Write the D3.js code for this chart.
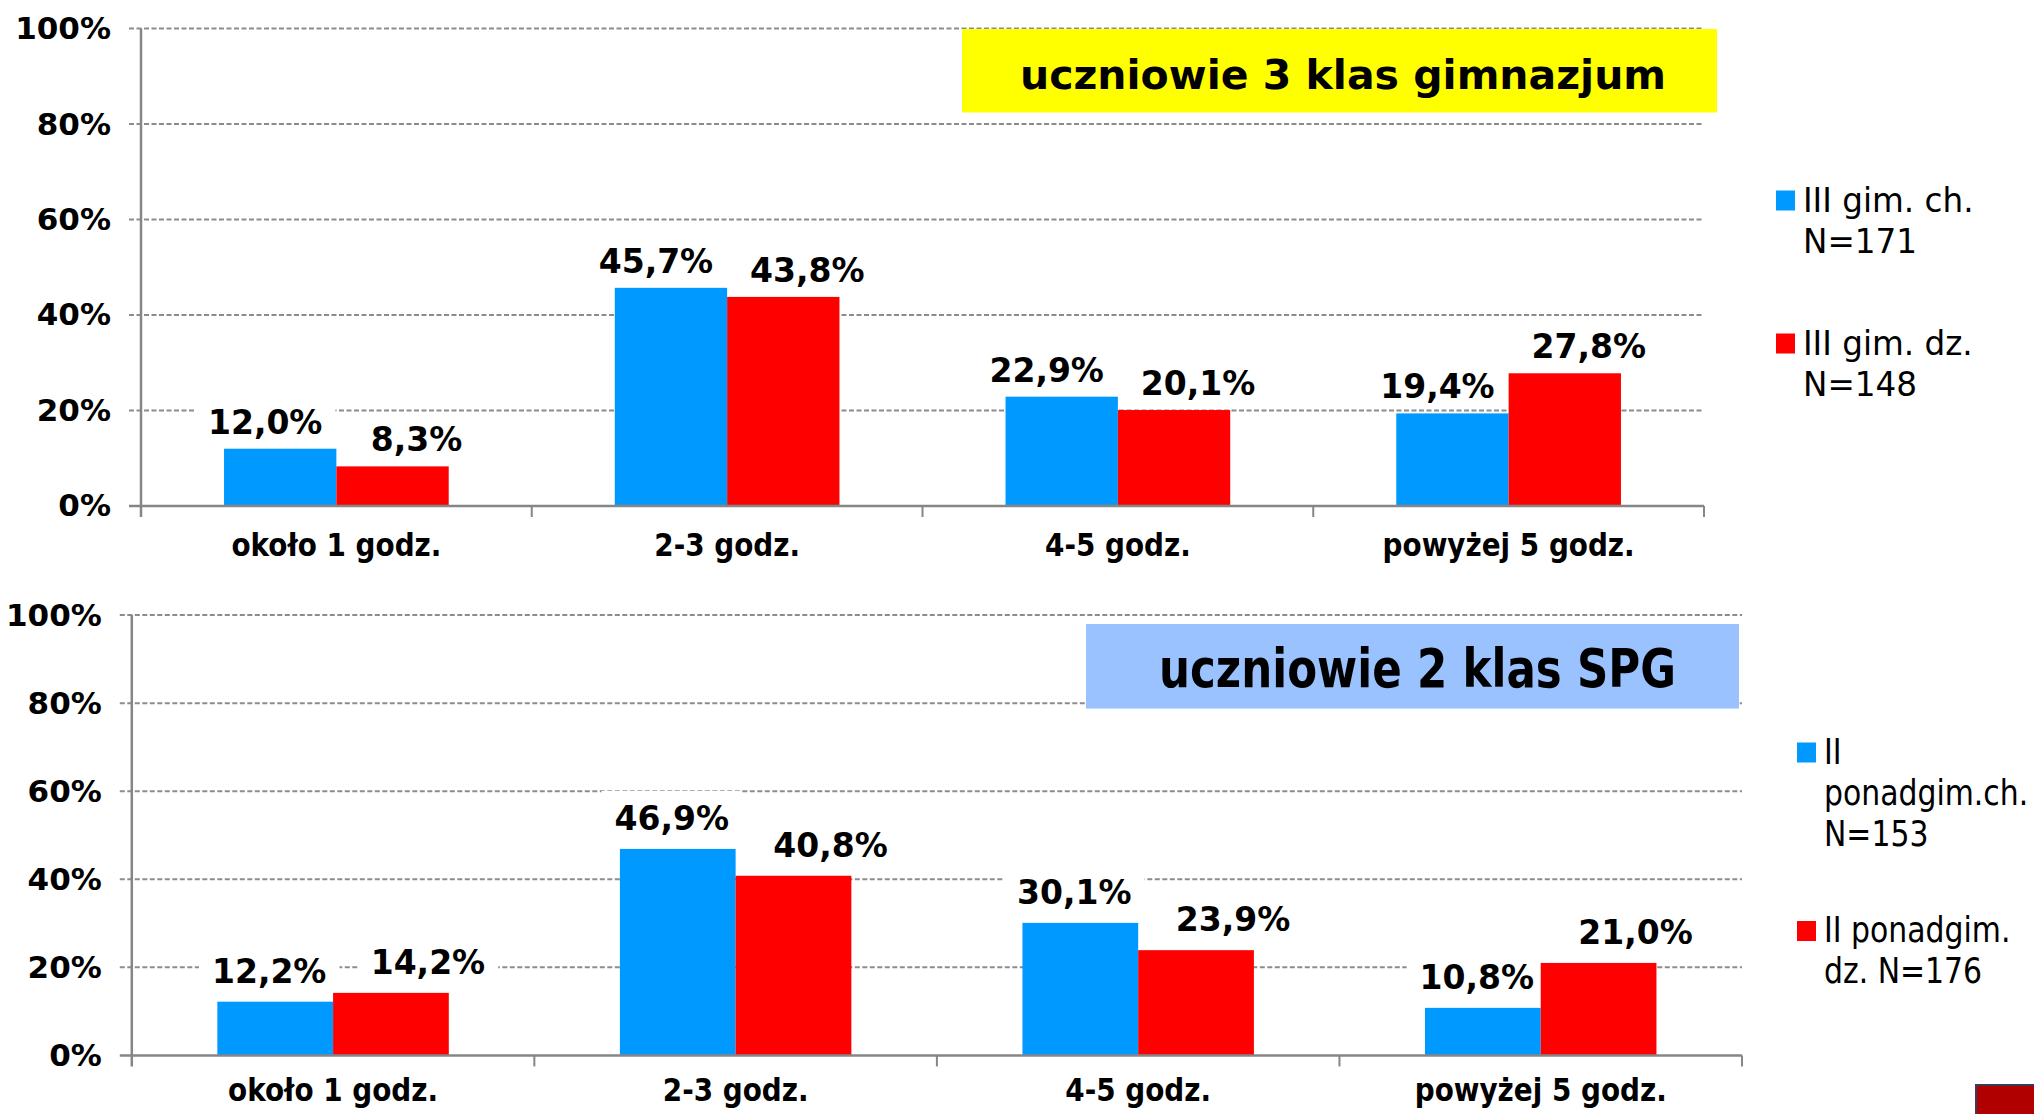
<!DOCTYPE html>
<html>
<head>
<meta charset="utf-8">
<script src="https://cdn.jsdelivr.net/npm/d3@7"></script>
<style>
  body { margin: 0; background: #fff; }
  svg { display: block; font-family: "DejaVu Sans", Verdana, sans-serif; }
</style>
</head>
<body>
<svg id="chart"></svg>
<script>
// data
const categories = ["około 1 godz.", "2-3 godz.", "4-5 godz.", "powyżej 5 godz."];
const yTicks = [0, 20, 40, 60, 80, 100];

const gimChValues = [12.0, 45.7, 22.9, 19.4];
const gimDzValues = [8.3, 43.8, 20.1, 27.8];
const spgChValues = [12.2, 46.9, 30.1, 10.8];
const spgDzValues = [14.2, 40.8, 23.9, 21.0];

const gimLegend = [["III gim. ch.", "N=171"], ["III gim. dz.", "N=148"]];
const spgLegend = [["II", "ponadgim.ch.", "N=153"], ["II ponadgim.", "dz. N=176"]];

const gimTitle = "uczniowie 3 klas gimnazjum";
const spgTitle = "uczniowie 2 klas SPG";

const seriesColors = ["#0099FF", "#FF0000"];

const W = 2034, H = 1114;
const svg = d3.select("#chart").attr("width", W).attr("height", H);

const fmt = v => v.toFixed(1).replace(".", ",") + "%";

function drawPanel(cfg) {
    const g = svg.append("g");

    const x0 = d3.scaleBand()
        .domain(categories)
        .range([cfg.left, cfg.right])
        .paddingInner(0.425)
        .paddingOuter(0.2125);
    const x1 = d3.scaleBand()
        .domain([0, 1])
        .range([0, x0.bandwidth()]);
    const y = d3.scaleLinear()
        .domain([0, 100])
        .range([cfg.bottom, cfg.top]);

    // dashed gridlines
    g.append("g").selectAll("line")
        .data(yTicks.filter(t => t > 0))
        .join("line")
        .attr("x1", cfg.left - 12)
        .attr("x2", cfg.right)
        .attr("y1", d => y(d))
        .attr("y2", d => y(d))
        .attr("stroke", "#8c8c8c")
        .attr("stroke-width", 2)
        .attr("stroke-dasharray", "5,2.5");

    // title box
    g.append("rect")
        .attr("x", cfg.titleBox[0]).attr("y", cfg.titleBox[1])
        .attr("width", cfg.titleBox[2]).attr("height", cfg.titleBox[3])
        .attr("fill", cfg.titleFill);
    const title = g.append("text")
        .attr("x", cfg.titleX).attr("y", cfg.titleY)
        .attr("font-size", cfg.titleSize)
        .attr("font-weight", "bold")
        .text(cfg.title);
    if (cfg.titleLength) {
        title.attr("textLength", cfg.titleLength).attr("lengthAdjust", "spacingAndGlyphs");
    }

    const rows = categories.map((c, i) => ({cat: c, vals: [cfg.series[0][i], cfg.series[1][i]]}));

    const bgG = g.append("g");
    const barG = g.append("g");

    barG.selectAll("g")
        .data(rows)
        .join("g")
        .attr("transform", d => `translate(${x0(d.cat)},0)`)
        .selectAll("rect")
        .data(d => d.vals.map((v, s) => ({v, s})))
        .join("rect")
        .attr("x", d => x1(d.s))
        .attr("width", x1.bandwidth())
        .attr("y", d => y(d.v))
        .attr("height", d => cfg.bottom - y(d.v))
        .attr("fill", d => seriesColors[d.s]);

    // axes lines
    g.append("line")
        .attr("x1", cfg.left).attr("x2", cfg.left)
        .attr("y1", cfg.top).attr("y2", cfg.bottom + 11)
        .attr("stroke", "#868686").attr("stroke-width", 2.5);
    g.append("line")
        .attr("x1", cfg.left - 12).attr("x2", cfg.right)
        .attr("y1", cfg.bottom).attr("y2", cfg.bottom)
        .attr("stroke", "#868686").attr("stroke-width", 2.5);
    g.append("g").selectAll("line")
        .data(d3.range(1, categories.length + 1))
        .join("line")
        .attr("x1", i => cfg.left + i * x0.step())
        .attr("x2", i => cfg.left + i * x0.step())
        .attr("y1", cfg.bottom).attr("y2", cfg.bottom + 11)
        .attr("stroke", "#868686").attr("stroke-width", 2);

    // y axis labels
    const yAxis = g.append("g")
        .attr("transform", `translate(${cfg.left},0)`)
        .call(d3.axisLeft(y).tickValues(yTicks).tickSize(0).tickPadding(30).tickFormat(d => d + "%"));
    yAxis.select(".domain").remove();
    yAxis.selectAll("text")
        .attr("font-family", "DejaVu Sans")
        .attr("font-size", 31)
        .attr("font-weight", "bold")
        .attr("fill", "#000");

    // category labels
    const xAxis = g.append("g")
        .attr("transform", `translate(0,${cfg.bottom + cfg.catOffset})`)
        .call(d3.axisBottom(x0).tickSize(0).tickPadding(0));
    xAxis.select(".domain").remove();
    xAxis.selectAll("text")
        .attr("dy", 0)
        .attr("y", 0)
        .attr("font-family", "DejaVu Sans")
        .attr("font-size", 32)
        .attr("font-weight", "bold")
        .attr("fill", "#000")
        .attr("transform", "scale(0.87,1)");

    // value labels with white boxes
    const labG = g.append("g");
    rows.forEach(r => {
        r.vals.forEach((v, s) => {
            const cx = x0(r.cat) + x1(s) + x1.bandwidth() / 2 + cfg.labelShift[s];
            const t = labG.append("text")
                .attr("x", cx)
                .attr("y", y(v) - cfg.labelGap)
                .attr("text-anchor", "middle")
                .attr("font-size", 33)
                .attr("font-weight", "bold")
                .text(fmt(v));
            const b = t.node().getBBox();
            bgG.append("rect")
                .attr("x", b.x - 13)
                .attr("y", b.y - 8)
                .attr("width", b.width + 26)
                .attr("height", b.height + 10)
                .attr("fill", "#fff");
        });
    });

    // legend
    const lg = g.append("g");
    cfg.legend.forEach((lines, s) => {
        const top = cfg.legendTop + s * cfg.legendStep;
        lg.append("rect")
            .attr("x", cfg.legendX).attr("y", top)
            .attr("width", 19).attr("height", 20)
            .attr("fill", seriesColors[s]);
        lines.forEach((line, k) => {
            lg.append("text")
                .attr("transform", `translate(${cfg.legendX + 27},${top + 21 + k * 41}) scale(${cfg.legendScale},1)`)
                .attr("font-size", cfg.legendSize)
                .text(line);
        });
    });
}

drawPanel({
    left: 141, right: 1704, top: 28.6, bottom: 506,
    series: [gimChValues, gimDzValues],
    labelShift: [-15, 24], labelGap: 15,
    catOffset: 50,
    title: gimTitle, titleFill: "#FFFF00",
    titleBox: [962, 29, 755, 83.5], titleX: 1020, titleY: 89, titleSize: 41,
    legend: gimLegend, legendX: 1776, legendTop: 190.5, legendStep: 143,
    legendSize: 34, legendScale: 0.96
});

drawPanel({
    left: 131.8, right: 1742, top: 615.1, bottom: 1055.4,
    series: [spgChValues, spgDzValues],
    labelShift: [-6, 37], labelGap: 19,
    catOffset: 46,
    title: spgTitle, titleFill: "#99C2FF",
    titleBox: [1086, 624, 653, 84.6], titleX: 1159, titleY: 687, titleSize: 54, titleLength: 517,
    legend: spgLegend, legendX: 1797, legendTop: 742.5, legendStep: 178.5,
    legendSize: 36, legendScale: 0.83
});

// decorative slide corner
svg.append("rect")
    .attr("x", 1976).attr("y", 1085).attr("width", 70).attr("height", 40)
    .attr("fill", "#B00000").attr("stroke", "#3a3a5a").attr("stroke-width", 2);
</script>
</body>
</html>
